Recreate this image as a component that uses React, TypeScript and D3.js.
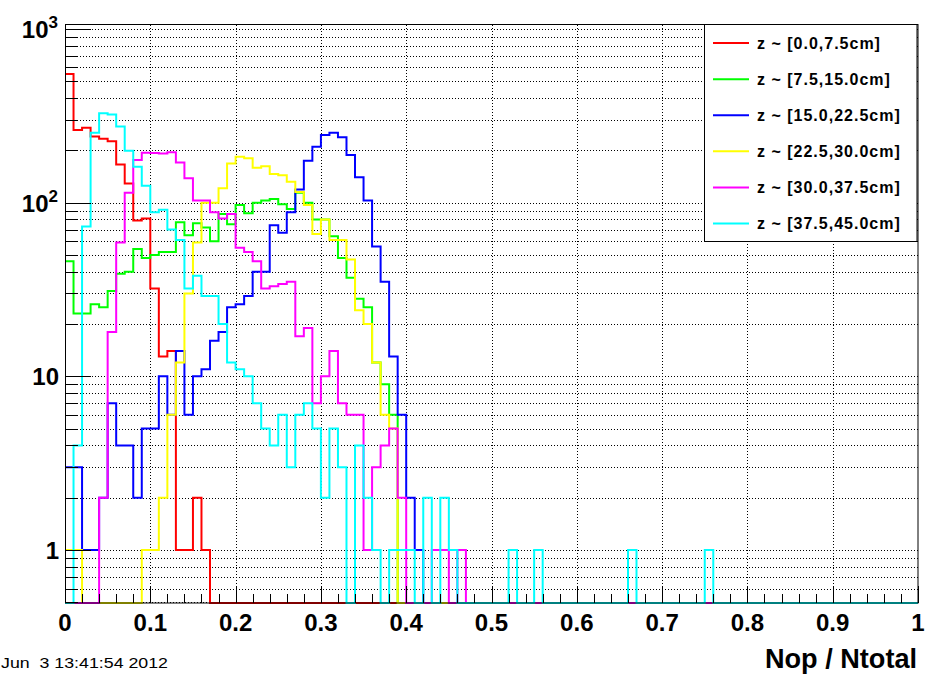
import React from "react";
import * as d3 from "d3";

// ---------- data ----------
const binCount = 100;
const seriesLabels = [
  "z ~ [0.0,7.5cm]",
  "z ~ [7.5,15.0cm]",
  "z ~ [15.0,22.5cm]",
  "z ~ [22.5,30.0cm]",
  "z ~ [30.0,37.5cm]",
  "z ~ [37.5,45.0cm]",
];
const seriesColors = ["#ff0000", "#00ff00", "#0000ff", "#ffff00", "#ff00ff", "#00ffff"];

const redCounts = [550, 262, 270, 240, 233, 226, 166, 129, 79, 81, 32, 13, 14, 1, 1, 2, 1];
const greenCounts = [46, 23, 23, 26, 25, 31, 39, 40, 54, 48, 50, 52, 52, 77, 65, 76, 72, 60, 86, 75,
  97, 87, 100, 103, 105, 98, 92, 114, 100, 80, 80, 64, 48, 37, 28, 25, 12, 9, 6];
const blueCounts = [3, 3, 1, 1, 2, 7, 4, 4, 2, 5, 5, 10, 6, 14, 6, 10, 11, 16, 18, 25,
  26, 29, 40, 40, 74, 67, 88, 119, 174, 210, 245, 253, 238, 188, 140, 103, 56, 35, 13, 6, 2, 1];
const yellowCounts = [1, 1, 0, 0, 0, 0, 0, 0, 0, 1, 1, 2, 6, 12, 30, 59, 100, 100, 121, 168,
  184, 180, 159, 162, 146, 144, 132, 115, 97, 66, 80, 61, 61, 47, 24, 20, 12, 6, 5];
const magentaCounts = [0, 0, 0, 0, 2, 18, 59, 114, 176, 194, 193, 192, 195, 170, 138, 103, 103, 88, 81, 86,
  55, 52, 46, 32, 33, 34, 35, 17, 19, 7, 10, 14, 7, 6, 6, 1, 3, 4, 5, 2, 0, 0, 0, 1, 1, 0, 1];
const cyanCounts = [0, 4, 73, 253, 327, 322, 274, 199, 161, 125, 88, 91, 70, 61, 32, 38, 29, 29, 20, 12,
  11, 10, 7, 5, 4, 6, 3, 6, 7, 5, 2, 5, 3, 0, 4, 2, 1, 0, 1, 1,
  1, 0, 2, 0, 2, 1, 0, 0, 0, 0, 0, 0, 1, 0, 0, 1, 0, 0, 0, 0,
  0, 0, 0, 0, 0, 0, 1, 0, 0, 0, 0, 0, 0, 0, 0, 1];

const xTickLabels = ["0", "0.1", "0.2", "0.3", "0.4", "0.5", "0.6", "0.7", "0.8", "0.9", "1"];
const xTickValues = [0, 0.1, 0.2, 0.3, 0.4, 0.5, 0.6, 0.7, 0.8, 0.9, 1];
const yLabelValues = [1, 10, 100, 1000];
const yLabelBases = ["1", "10", "10", "10"];
const yLabelExps = ["", "", "2", "3"];
const xTitle = "Nop / Ntotal";
const dateText = "Jun  3 13:41:54 2012";

// ---------- layout ----------
const W = 938;
const H = 680;
const L = 65, R = 918, T = 25, B = 603;
const yDomain: [number, number] = [0.4953, 1054];

const allSeries = [redCounts, greenCounts, blueCounts, yellowCounts, magentaCounts, cyanCounts];

export default function App() {
  const x = d3.scaleLinear().domain([0, 1]).range([L, R]);
  const y = d3.scaleLog().domain(yDomain).range([B, T]);
  const yv = (v: number) => (v > yDomain[0] ? y(v) : B);

  const makePath = (counts: number[]) => {
    const pts: [number, number][] = [[x(0), B]];
    for (let i = 0; i < binCount; i++) {
      const v = counts[i] ?? 0;
      pts.push([x(i / binCount), yv(v)]);
      pts.push([x((i + 1) / binCount), yv(v)]);
    }
    pts.push([x(1), B]);
    return d3.line()(pts) ?? "";
  };

  // log ticks
  const yTicks = y.ticks(20).filter((t) => t >= yDomain[0] && t <= yDomain[1]);
  const isMajorY = (t: number) => Math.abs(Math.log10(t) - Math.round(Math.log10(t))) < 1e-9;
  const xMinor = d3.range(0, 51).map((i) => i / 50);

  const font = "'Liberation Sans', Arial, Helvetica, sans-serif";
  const legendTop = 25, legendBottom = 241.5, legendLeft = 704.5, legendRight = 917;
  const entryH = (legendBottom - legendTop) / seriesLabels.length;

  return (
    <svg width={W} height={H} style={{ position: "absolute", left: 0, top: 0, background: "#fff" }}
      xmlns="http://www.w3.org/2000/svg">
      <defs>
        <clipPath id="frameClip">
          <rect x={L} y={T} width={R - L} height={B - T + 1.5} />
        </clipPath>
      </defs>
      <rect x={0} y={0} width={W} height={H} fill="#fff" />

      {/* grid */}
      <g stroke="#000" strokeWidth={1} strokeDasharray="1,2" fill="none">
        {xTickValues.filter((v) => v > 0 && v < 1).map((v) => (
          <line key={"gx" + v} x1={Math.round(x(v)) + 0.5} x2={Math.round(x(v)) + 0.5} y1={T} y2={B} />
        ))}
        {yTicks.map((t) => (
          <line key={"gy" + t} x1={L} x2={R} y1={Math.round(y(t)) + 0.5} y2={Math.round(y(t)) + 0.5} />
        ))}
      </g>

      {/* histograms */}
      <g clipPath="url(#frameClip)" fill="none" strokeWidth={2} strokeLinejoin="miter">
        {allSeries.map((s, i) => (
          <path key={"h" + i} d={makePath(s)} stroke={seriesColors[i]} />
        ))}
      </g>

      {/* frame */}
      <rect x={L + 0.5} y={T - 0.5} width={R - L - 0.5} height={B - T + 0.5} fill="none" stroke="#000" strokeWidth={1} />

      {/* ticks */}
      <g stroke="#000" strokeWidth={1}>
        {xMinor.map((v, i) => {
          const major = i % 5 === 0;
          const px = Math.round(x(v)) + 0.5;
          return <line key={"xt" + i} x1={px} x2={px} y1={B} y2={B - (major ? 17 : 9)} />;
        })}
        {yTicks.map((t) => {
          const py = Math.round(y(t)) + 0.5;
          return <line key={"yt" + t} x1={L} x2={L + (isMajorY(t) ? 26 : 13)} y1={py} y2={py} />;
        })}
      </g>

      {/* x tick labels */}
      <g fontFamily={font} fontWeight="bold" fontSize={24} textAnchor="middle" fill="#000">
        {xTickLabels.map((lab, i) => (
          <text key={"xl" + i} x={x(xTickValues[i])} y={631}>{lab}</text>
        ))}
      </g>

      {/* y tick labels */}
      <g fontFamily={font} fontWeight="bold" fontSize={24} textAnchor="end" fill="#000">
        {yLabelValues.map((v, i) => (
          yLabelExps[i] ? (
            <text key={"yl" + i} x={58} y={y(v) + 9}>
              {yLabelBases[i]}
              <tspan fontSize={17} dy={-10}>{yLabelExps[i]}</tspan>
            </text>
          ) : (
            <text key={"yl" + i} x={59} y={y(v) + 9}>{yLabelBases[i]}</text>
          )
        ))}
      </g>

      {/* axis title */}
      <text x={917} y={668} textAnchor="end" fontFamily={font} fontWeight="bold" fontSize={28}
        textLength={152} lengthAdjust="spacingAndGlyphs">{xTitle}</text>

      {/* date */}
      <text x={1} y={668} fontFamily={font} fontSize={14} style={{ whiteSpace: "pre" }}
        textLength={167} lengthAdjust="spacingAndGlyphs">{dateText}</text>

      {/* legend */}
      <rect x={legendLeft} y={legendTop - 0.5} width={legendRight - legendLeft} height={legendBottom - legendTop + 0.5}
        fill="#fff" stroke="#000" strokeWidth={1} />
      {seriesLabels.map((lab, i) => {
        const cy = legendTop + entryH * (i + 0.5);
        return (
          <g key={"lg" + i}>
            <line x1={713} x2={749} y1={cy} y2={cy} stroke={seriesColors[i]} strokeWidth={2} />
            <text x={757} y={cy + 6} fontFamily={font} fontWeight="bold" fontSize={16} letterSpacing={1}
              style={{ whiteSpace: "pre" }}>{lab}</text>
          </g>
        );
      })}
    </svg>
  );
}
